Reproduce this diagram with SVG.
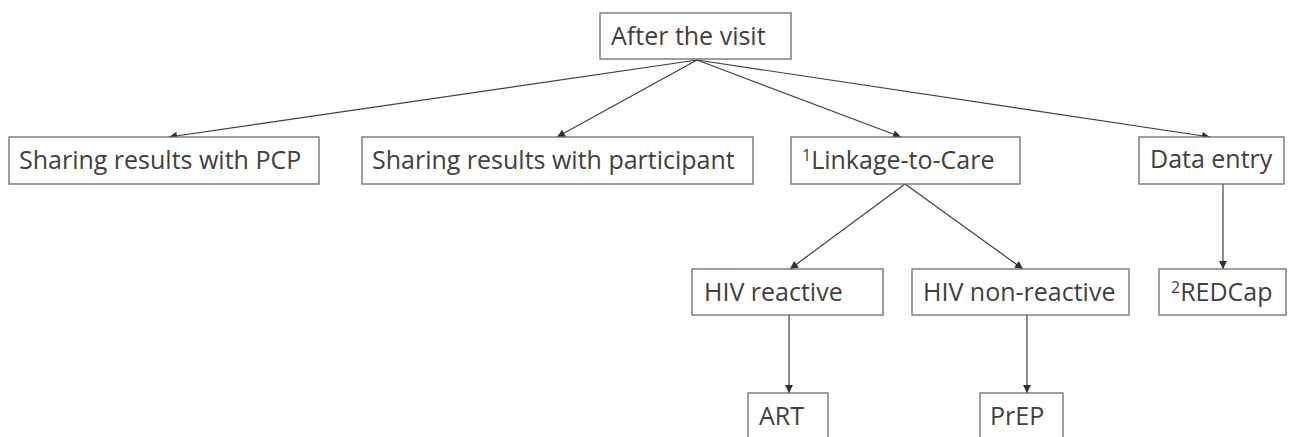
<svg xmlns="http://www.w3.org/2000/svg" width="1295" height="437" viewBox="0 0 1295 437">
<style>
.box{fill:#fff;stroke:#6b6b6b;stroke-width:1.3}
.t{font-family:"Open Sans","Noto Sans","DejaVu Sans",sans-serif;font-size:25px;fill:#404040}
.sup{font-size:16px}
.c{stroke:#404040;stroke-width:1.2;fill:none;marker-end:url(#ah)}
</style>
<defs>
<marker id="ah" viewBox="0 0 10 10" refX="10" refY="5" markerWidth="10" markerHeight="8" markerUnits="userSpaceOnUse" orient="auto">
<path d="M0,0 L10,5 L0,10 z" fill="#303030"/>
</marker>
</defs>
<rect width="1295" height="437" fill="#fff"/>
<g id="connectors">
<line class="c" x1="697" y1="60" x2="169" y2="137"/>
<line class="c" x1="697" y1="60" x2="557" y2="137"/>
<line class="c" x1="697" y1="60" x2="901" y2="137"/>
<line class="c" x1="697" y1="60" x2="1210" y2="137"/>
<line class="c" x1="905" y1="184" x2="790" y2="269"/>
<line class="c" x1="905" y1="184" x2="1023" y2="269"/>
<line class="c" x1="789" y1="315" x2="789" y2="393"/>
<line class="c" x1="1027" y1="315" x2="1027" y2="393"/>
<line class="c" x1="1223" y1="184" x2="1223" y2="269"/>
</g>
<g id="after-visit"><rect class="box" x="600" y="13" width="191" height="46"/><text class="t" x="611" y="45">After the visit</text></g>
<g id="sharing-pcp"><rect class="box" x="9" y="137" width="310" height="47"/><text class="t" x="19" y="169">Sharing results with PCP</text></g>
<g id="sharing-participant"><rect class="box" x="362" y="137" width="391" height="47"/><text class="t" x="372" y="169">Sharing results with participant</text></g>
<g id="linkage"><rect class="box" x="791" y="137" width="229" height="47"/><text class="t" x="802" y="169"><tspan class="sup" dy="-8">1</tspan><tspan dy="8">Linkage-to-Care</tspan></text></g>
<g id="data-entry"><rect class="box" x="1139" y="137" width="145" height="47"/><text class="t" x="1150" y="168">Data entry</text></g>
<g id="hiv-reactive"><rect class="box" x="692" y="269" width="191" height="46"/><text class="t" x="704" y="301">HIV reactive</text></g>
<g id="hiv-nonreactive"><rect class="box" x="912" y="269" width="217" height="46"/><text class="t" x="923" y="301">HIV non-reactive</text></g>
<g id="redcap"><rect class="box" x="1159" y="269" width="127" height="46"/><text class="t" x="1171" y="301"><tspan class="sup" dy="-8">2</tspan><tspan dy="8">REDCap</tspan></text></g>
<g id="art"><rect class="box" x="748" y="393" width="80" height="60"/><text class="t" x="759" y="425">ART</text></g>
<g id="prep"><rect class="box" x="980" y="393" width="83" height="60"/><text class="t" x="990" y="425">PrEP</text></g>
</svg>
